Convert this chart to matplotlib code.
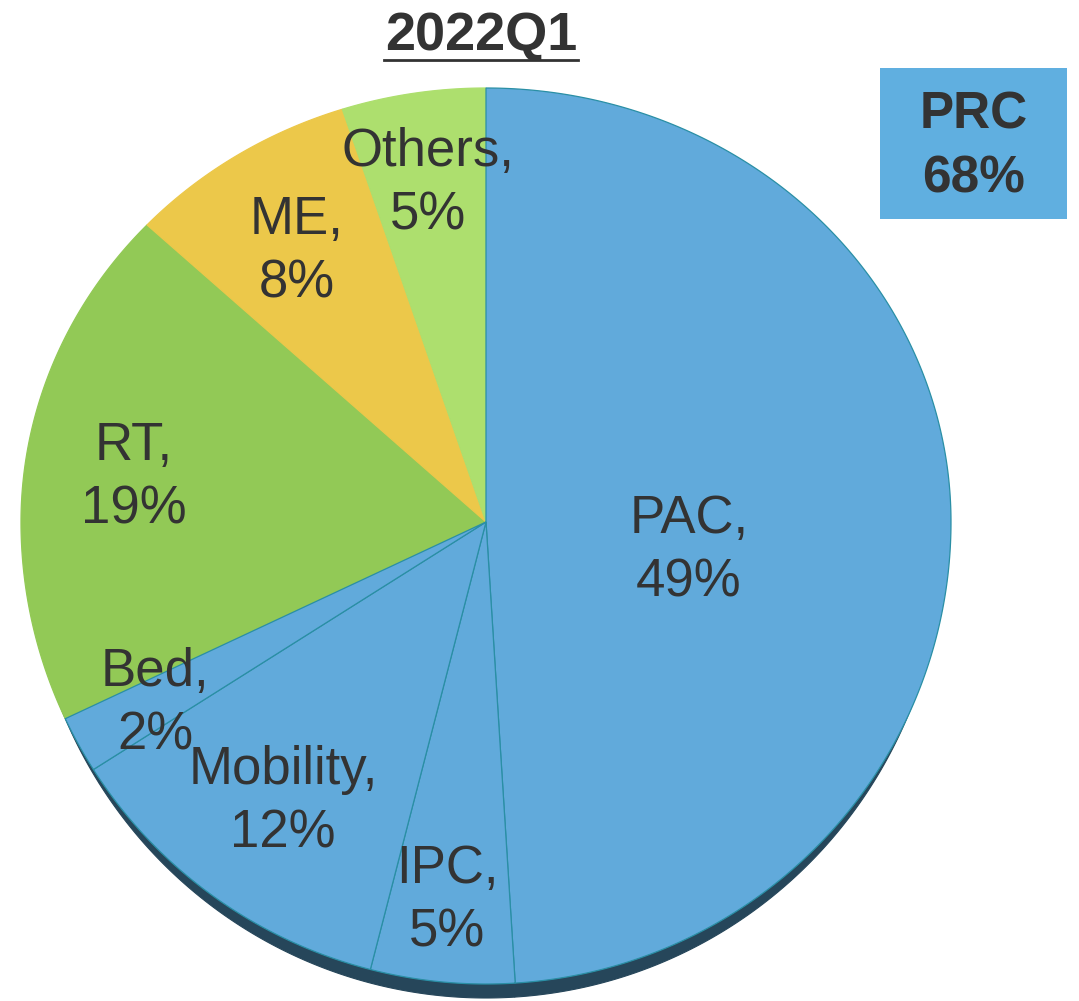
import matplotlib.pyplot as plt
import numpy as np
from matplotlib.patches import Polygon, Rectangle
from matplotlib.lines import Line2D

plt.rcParams["font.family"] = ["Liberation Sans", "DejaVu Sans"]

# data
categories = ["PAC", "IPC", "Mobility", "Bed", "RT", "ME", "Others"]
shares = [49, 5, 12, 2, 19, 8, 5]
prc_share = 68
title = "2022Q1"

# styling
blue = "#61AADB"
colors = [blue, blue, blue, blue, "#92C956", "#ECC84A", "#ADDF6E"]
edge_teal = "#2A8FA5"
shadow = "#26465A"
text_color = "#333333"

# label centres, in pixels
label_pos = [(689, 551), (447, 901), (283, 802), (155, 704),
             (134, 478), (297, 252), (428, 184)]

# pie geometry in pixels (slightly tilted disc)
cx, cy = 486, 522
rx, ry_up, ry_down = 465, 434, 462
depth = 14

fig = plt.figure(figsize=(10.79, 10.01), dpi=100)
ax = fig.add_axes([0, 0, 1, 1])
wedges, _ = ax.pie(shares, startangle=90, counterclock=False, radius=1)
ax.set_aspect("auto")
ax.set_xlim(0, 1079)
ax.set_ylim(1001, 0)
ax.axis("off")


def wedge_pixels(w, dy=0, sx=1.0):
    t = np.radians(np.linspace(w.theta1, w.theta2, 300))
    ux = np.concatenate([[0], np.cos(t)])
    uy = np.concatenate([[0], np.sin(t)])
    x = cx + rx * sx * ux
    y = cy + dy - np.where(uy > 0, ry_up, ry_down) * uy
    return np.column_stack([x, y])


# 3D side (shadow) first
for w in wedges:
    ax.add_patch(Polygon(wedge_pixels(w, depth, 0.985), closed=True,
                         facecolor=shadow, edgecolor=shadow, lw=0.8, zorder=1))

# green / yellow slices, then blue slices with teal borders on top
order = [i for i in range(len(wedges)) if colors[i] != blue] + \
        [i for i in range(len(wedges)) if colors[i] == blue]
for i in order:
    w = wedges[i]
    ec = edge_teal if colors[i] == blue else colors[i]
    ax.add_patch(Polygon(wedge_pixels(w), closed=True, facecolor=colors[i],
                         edgecolor=ec, lw=0.9, zorder=2 if colors[i] != blue else 3))
    w.remove()

for name, val, (x, y) in zip(categories, shares, label_pos):
    ax.text(x, y, f"{name},\n{val}%", ha="center", va="center", fontsize=38,
            color=text_color, linespacing=1.34, zorder=5)

# PRC box
ax.add_patch(Rectangle((880, 68), 187, 151, facecolor="#60AFE0",
                       edgecolor="none", zorder=4))
ax.text(973.5, 147, f"PRC\n{prc_share}%", ha="center", va="center",
        fontsize=37, fontweight="bold", color=text_color, linespacing=1.42, zorder=5)

# underlined title
t = ax.text(481, 50, title, ha="center", va="baseline", fontsize=39,
            fontweight="bold", color=text_color)
fig.canvas.draw()
bb = t.get_window_extent().transformed(ax.transData.inverted())
ax.add_line(Line2D([bb.x0 - 1, bb.x1 + 1], [60, 60], color=text_color, lw=2))

fig.savefig("out.png", dpi=100)
